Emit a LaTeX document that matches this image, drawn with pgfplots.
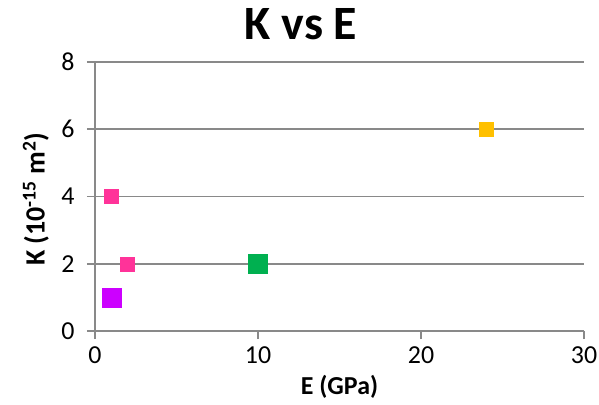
\documentclass[border=0pt]{standalone}
\usepackage{pgfplots}
\pgfplotsset{compat=1.18}
\usepackage{fontspec}
\setmainfont{Carlito}
\definecolor{gridgray}{HTML}{898989}
\definecolor{cpink}{HTML}{FF3399}
\definecolor{cmag}{HTML}{CC00FF}
\definecolor{cgreen}{HTML}{00B050}
\definecolor{corange}{HTML}{FFC000}
\begin{document}
\begin{tikzpicture}
\path[use as bounding box] (0,0) rectangle (599bp,405bp);
\begin{axis}[
  at={(95bp,74bp)}, anchor=south west,
  scale only axis, width=489bp, height=269bp,
  xmin=0, xmax=30, ymin=0, ymax=8,
  xtick={0,10,20,30}, ytick={0,2,4,6,8},
  axis x line=bottom, axis y line=left,
  axis line style={-, draw=gridgray, line width=1.6bp},
  tick align=outside, major tick length=8bp,
  tick style={draw=gridgray, line width=1.6bp},
  ymajorgrids, grid style={draw=gridgray, line width=1.6bp},
  /pgf/number format/assume math mode=true,
  ticklabel style={font=\fontsize{26}{30}\selectfont, text=black},
  yticklabel style={xshift=-9bp},
  xticklabel style={yshift=-4bp},
  title={K vs E},
  title style={font=\bfseries\fontsize{48}{54}\selectfont, at={(axis description cs:0.421,1)}, anchor=center, yshift=32bp},
  xlabel={E (GPa)},
  xlabel style={font=\bfseries\fontsize{26}{30}\selectfont, at={(axis description cs:0.5,0)}, anchor=center, yshift=-56bp},
  ylabel={K (10\textsuperscript{-15} m\textsuperscript{2})},
  ylabel style={font=\bfseries\fontsize{28}{32}\selectfont, at={(axis description cs:-0.121,0.49)}, anchor=center},
  clip=false,
]
\addplot[only marks, mark=square*, mark size=7bp, color=cpink] coordinates {(1,4) (2,2)};
\addplot[only marks, mark=square*, mark size=9.5bp, color=cmag] coordinates {(1,1)};
\addplot[only marks, mark=square*, mark size=9.5bp, color=cgreen] coordinates {(10,2)};
\addplot[only marks, mark=square*, mark size=7bp, color=corange] coordinates {(24,6)};
\end{axis}
\end{tikzpicture}
\end{document}
